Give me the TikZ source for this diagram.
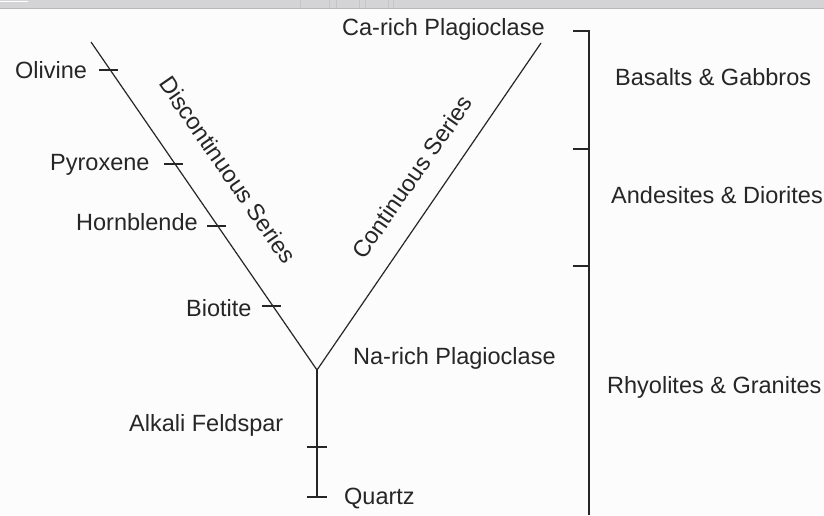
\documentclass[tikz,border=0pt]{standalone}
\usepackage{fontspec}
\setmainfont{Liberation Sans}
\usetikzlibrary{calc}
\definecolor{ink}{HTML}{262626}
\definecolor{bar}{HTML}{D4D4D6}
\definecolor{barline}{HTML}{B8B8BA}
\definecolor{paper}{HTML}{FCFCFC}
\begin{document}
\begin{tikzpicture}[x=1pt,y=-1pt,
  lbl/.style={font=\fontsize{23.5}{26}\selectfont, text=ink, inner sep=0pt, text height=16.9pt, text depth=0pt},
  diag/.style={draw=ink, line width=1.2pt},
  stem/.style={draw=ink, line width=1.6pt},
  tick/.style={draw=ink, line width=1.3pt}]
\useasboundingbox (0,0) rectangle (824,515);
\fill[paper] (0,0) rectangle (824,515);
% top toolbar strip
\fill[bar] (0,0) rectangle (824,8.5);
\draw[barline, line width=1pt] (0,8.5) -- (824,8.5);
\draw[white, line width=1pt] (0,1.5) -- (28,1.5);
\draw[barline!80, line width=0.6pt] (300,0) -- (300,8) (329,0) -- (329,8) (336,0) -- (336,8) (359,0) -- (359,8) (365,0) -- (365,8) (388,0) -- (388,8) (393,0) -- (393,8);

% main lines
\coordinate (ltop) at (91,42);
\coordinate (vtx) at (317,370);
\coordinate (rtop) at (541,43);
\coordinate (bot) at (317,497);
\coordinate (fsp) at (317,447);
\draw[diag] (ltop) -- (vtx) -- (rtop);
\draw[stem] (vtx) -- (bot);

% ticks on discontinuous series
\foreach \t/\n in {0.085/ol,0.372/py,0.561/hb,0.805/bi}{
  \coordinate (\n) at ($(ltop)!\t!(vtx)$);
  \draw[tick] ([xshift=-11pt]\n) -- ([xshift=8pt]\n);
}
\draw[tick] ([xshift=-10pt]fsp) -- ([xshift=10pt]fsp);
\draw[tick] ([xshift=-10pt]bot) -- ([xshift=10pt]bot);

% right bracket
\coordinate (btop) at (589,31);
\coordinate (bbot) at (589,515);
\coordinate (b1) at (589,149);
\coordinate (b2) at (589,266);
\draw[stem] ([xshift=-16pt]btop) -- (btop) -- (bbot);
\draw[stem] ([xshift=-16pt]b1) -- (b1);
\draw[stem] ([xshift=-16pt]b2) -- (b2);

% labels
\node[lbl, anchor=west] (ca) at (342,27) {Ca-rich Plagioclase};
\node[lbl, anchor=west] (olv) at (15,70) {Olivine};
\node[lbl, anchor=west] (pyr) at (50,162) {Pyroxene};
\node[lbl, anchor=west] (hor) at (76,222) {Hornblende};
\node[lbl, anchor=west] (bio) at (186,308) {Biotite};
\node[lbl, anchor=west] (alk) at (129,423) {Alkali Feldspar};
\node[lbl, anchor=west] (na) at (353,356) {Na-rich Plagioclase};
\node[lbl, anchor=west] (qtz) at (344,496) {Quartz};
\node[lbl, anchor=west] (bas) at (615,77) {Basalts \& Gabbros};
\node[lbl, anchor=west] (and) at (611,195) {Andesites \& Diorites};
\node[lbl, anchor=west] (rhy) at (607,385) {Rhyolites \& Granites};
\node[lbl, rotate=-55.4] (disc) at (228,170) {Discontinuous Series};
\node[lbl, rotate=55.3] (cont) at (412,177) {Continuous Series};
\end{tikzpicture}
\end{document}
